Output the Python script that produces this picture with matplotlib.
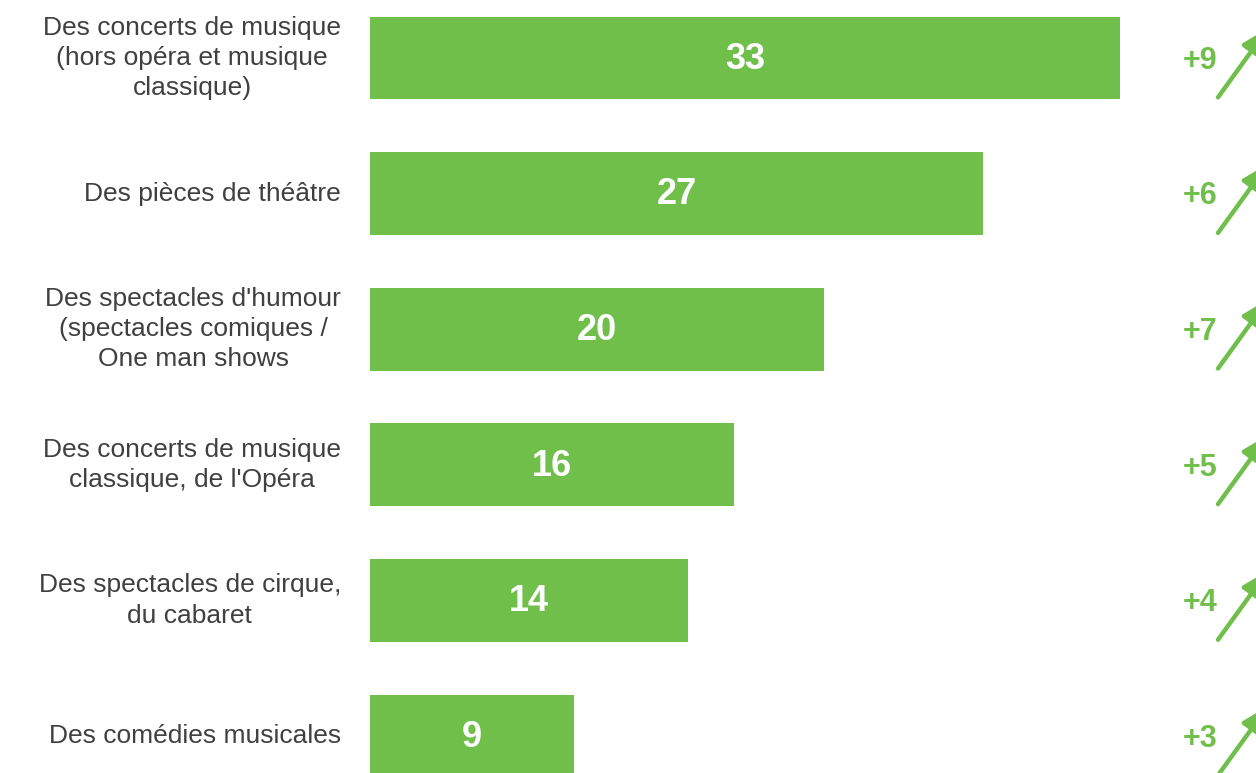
import matplotlib
matplotlib.use("Agg")
import matplotlib.pyplot as plt

categories = [
    "Des concerts de musique\n(hors opéra et musique\nclassique)",
    "Des pièces de théâtre",
    "Des spectacles d'humour\n(spectacles comiques /\nOne man shows",
    "Des concerts de musique\nclassique, de l'Opéra",
    "Des spectacles de cirque,\ndu cabaret",
    "Des comédies musicales",
]
values = [33, 27, 20, 16, 14, 9]
changes = ["+9", "+6", "+7", "+5", "+4", "+3"]

GREEN = "#70bf4b"
GREY = "#404040"
plt.rcParams['font.family'] = ['Liberation Sans', 'DejaVu Sans']

W, H = 1256, 773
fig = plt.figure(figsize=(W / 100, H / 100), dpi=100)
ax = fig.add_axes([370 / W, 0, 1 - 370 / W, 1])

px = 22.72  # pixels per unit
ax.set_xlim(0, (W - 370) / px)
ax.set_ylim(5.273, -0.428)
ax.axis("off")

y = list(range(len(values)))
ax.barh(y, values, height=0.61, color=GREEN, left=0)

for i, v in enumerate(values):
    ax.text(v / 2, i + 0.01, str(v), ha="center", va="center", color="white",
            fontsize=26, fontweight="bold")
    ax.text(-29 / px, i, categories[i], ha="right", va="center",
            multialignment="center", color=GREY, fontsize=19,
            linespacing=1.33)
    ax.text((1200 - 370) / px, i + 0.02, changes[i], ha="center", va="center",
            color=GREEN, fontsize=22, fontweight="bold")
    ax.annotate("", xy=((1268 - 370) / px, i - 0.22),
                xytext=((1218 - 370) / px, i + 0.29),
                arrowprops=dict(arrowstyle="-|>,head_length=1.6,head_width=0.7",
                                color=GREEN, lw=3.2, shrinkA=0, shrinkB=0),
                annotation_clip=False)

fig.savefig("out.png", dpi=100)
